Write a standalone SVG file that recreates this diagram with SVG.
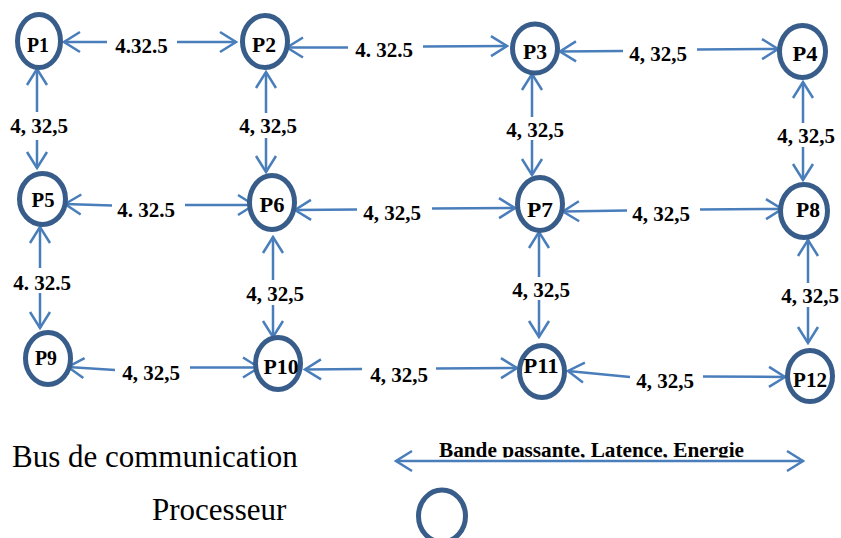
<svg xmlns="http://www.w3.org/2000/svg" width="841" height="538" viewBox="0 0 841 538">
  <style>
    .proc { fill: #ffffff; stroke: #385D8A; stroke-width: 5; }
    .bus { fill: none; stroke: #4A7EBB; stroke-width: 2.5; marker-start: url(#head); marker-end: url(#head); }
    .pl { font-family: "Liberation Serif", "Times New Roman", serif; font-weight: bold; font-size: 22px; text-anchor: middle; fill: #000; }
    .el { font-family: "Liberation Serif", "Times New Roman", serif; font-weight: bold; font-size: 21px; text-anchor: middle; fill: #000; }
    .lg { font-family: "Liberation Serif", "Times New Roman", serif; font-size: 31px; fill: #000; }
  </style>
  <defs>
    <!-- open V arrowhead used at both ends of every bus -->
    <marker id="head" viewBox="-19 -12 21 24" markerWidth="21" markerHeight="24" refX="0" refY="0" orient="auto-start-reverse" markerUnits="userSpaceOnUse">
      <path d="M -16 -10 L 0 0 L -16 10" fill="none" stroke="#4A7EBB" stroke-width="2.5"/>
    </marker>
    <clipPath id="legendClip">
      <rect x="380" y="430" width="440" height="27.5"/>
    </clipPath>
  </defs>

  <rect width="841" height="538" fill="#ffffff"/>

  <!-- communication buses (drawn with a break where the label sits) -->
  <g id="connectors">
    <!-- row 1 -->
    <path class="bus" d="M 64 42 L 107 42 M 177 42 L 236 42"/>
    <path class="bus" d="M 287 47.5 L 348 47.5 M 423 46.5 L 507 46"/>
    <path class="bus" d="M 560 51.5 L 623 51 M 697 49.5 L 778 49"/>
    <!-- row 2 -->
    <path class="bus" d="M 65 204 L 112 205.5 M 185 205 L 254 205"/>
    <path class="bus" d="M 295 210 L 357 209.5 M 432 208.5 L 515 208"/>
    <path class="bus" d="M 563 211.5 L 627 210.5 M 700 209.5 L 782 209"/>
    <!-- row 3 -->
    <path class="bus" d="M 68 367 L 115 370 M 190 367.5 L 259 367.5"/>
    <path class="bus" d="M 305 369.5 L 362 369 M 436 368.5 L 517 368"/>
    <path class="bus" d="M 568 371 L 630 377 M 703 376.5 L 785 377"/>
    <!-- columns -->
    <path class="bus" d="M 37 69 L 37 112 M 37 140 L 37 168"/>
    <path class="bus" d="M 266 72 L 266 113 M 266 138 L 266 172"/>
    <path class="bus" d="M 532 74 L 532 117 M 532 140 L 532 175"/>
    <path class="bus" d="M 803 82 L 803 123 M 803 147 L 803 180"/>
    <path class="bus" d="M 40 227 L 40 268 M 40 293 L 40 328"/>
    <path class="bus" d="M 273 237 L 273 280 M 273 305 L 273 337"/>
    <path class="bus" d="M 539 232 L 539 277 M 539 300 L 539 337"/>
    <path class="bus" d="M 808 240 L 808 283 M 808 307 L 808 343"/>
  </g>

  <!-- bus labels: bandwidth, latency, energy -->
  <g id="bus-labels">
    <text class="el" x="141.5" y="53">4.32.5</text>
    <text class="el" x="384" y="57">4. 32.5</text>
    <text class="el" x="658" y="61">4, 32,5</text>
    <text class="el" x="146" y="217">4. 32.5</text>
    <text class="el" x="392" y="220">4, 32,5</text>
    <text class="el" x="661" y="221">4, 32,5</text>
    <text class="el" x="151" y="380">4, 32,5</text>
    <text class="el" x="399" y="382">4, 32,5</text>
    <text class="el" x="665" y="388">4, 32,5</text>
    <text class="el" x="39" y="133">4, 32,5</text>
    <text class="el" x="268" y="133">4, 32,5</text>
    <text class="el" x="535" y="137">4, 32,5</text>
    <text class="el" x="806" y="143">4, 32,5</text>
    <text class="el" x="42" y="290">4. 32.5</text>
    <text class="el" x="275" y="301">4, 32,5</text>
    <text class="el" x="541" y="297">4, 32,5</text>
    <text class="el" x="810" y="303">4, 32,5</text>
  </g>

  <!-- processors -->
  <g id="P1"><ellipse class="proc" cx="39" cy="41" rx="21.5" ry="26.5"/><text class="pl" x="38" y="52" textLength="22" lengthAdjust="spacingAndGlyphs">P1</text></g>
  <g id="P2"><ellipse class="proc" cx="265" cy="41.5" rx="22.5" ry="26"/><text class="pl" x="264" y="52" textLength="24" lengthAdjust="spacingAndGlyphs">P2</text></g>
  <g id="P3"><ellipse class="proc" cx="535" cy="48.5" rx="22.5" ry="24.5"/><text class="pl" x="535" y="59" textLength="24" lengthAdjust="spacingAndGlyphs">P3</text></g>
  <g id="P4"><ellipse class="proc" cx="802.5" cy="51.5" rx="23" ry="26"/><text class="pl" x="805" y="61" textLength="25" lengthAdjust="spacingAndGlyphs">P4</text></g>
  <g id="P5"><ellipse class="proc" cx="42.5" cy="199" rx="23" ry="25.5"/><text class="pl" x="43" y="207" textLength="23" lengthAdjust="spacingAndGlyphs">P5</text></g>
  <g id="P6"><ellipse class="proc" cx="272" cy="202.5" rx="22.5" ry="27"/><text class="pl" x="272" y="212" textLength="25" lengthAdjust="spacingAndGlyphs">P6</text></g>
  <g id="P7"><ellipse class="proc" cx="540" cy="204" rx="22.5" ry="26.5"/><text class="pl" x="540" y="217" textLength="26" lengthAdjust="spacingAndGlyphs">P7</text></g>
  <g id="P8"><ellipse class="proc" cx="804" cy="211" rx="23.5" ry="26.5"/><text class="pl" x="808" y="217" textLength="24" lengthAdjust="spacingAndGlyphs">P8</text></g>
  <g id="P9"><ellipse class="proc" cx="48" cy="358.5" rx="22.5" ry="26"/><text class="pl" x="46" y="365" textLength="22" lengthAdjust="spacingAndGlyphs">P9</text></g>
  <g id="P10"><ellipse class="proc" cx="278" cy="363.5" rx="22.5" ry="26"/><text class="pl" x="281" y="374" textLength="35" lengthAdjust="spacingAndGlyphs">P10</text></g>
  <g id="P11"><ellipse class="proc" cx="542" cy="371.5" rx="22.5" ry="26"/><text class="pl" x="541" y="373" textLength="35" lengthAdjust="spacingAndGlyphs">P11</text></g>
  <g id="P12"><ellipse class="proc" cx="810" cy="376" rx="22.5" ry="25.5"/><text class="pl" x="810" y="387" textLength="34" lengthAdjust="spacingAndGlyphs">P12</text></g>

  <!-- legend -->
  <g id="legend">
    <text class="lg" x="12" y="467">Bus de communication</text>
    <text class="lg" x="152" y="520">Processeur</text>
    <text clip-path="url(#legendClip)" x="439" y="457" font-family="Liberation Serif, Times New Roman, serif" font-weight="bold" font-size="21" textLength="305" lengthAdjust="spacingAndGlyphs">Bande passante, Latence, Energie</text>
    <path class="bus" d="M 396 461 L 803 461"/>
    <ellipse class="proc" cx="442" cy="516" rx="23.5" ry="26"/>
  </g>
</svg>
